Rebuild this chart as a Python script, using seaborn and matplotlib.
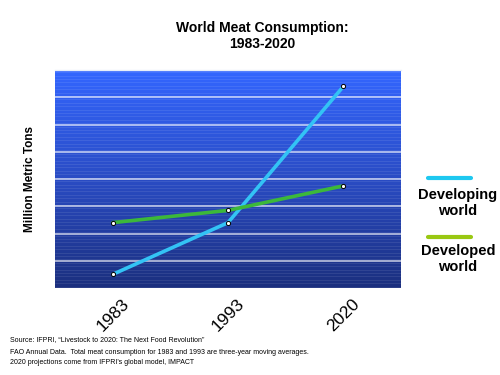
import numpy as np
import pandas as pd
import matplotlib
matplotlib.use("Agg")
import matplotlib.pyplot as plt
from matplotlib.lines import Line2D
from matplotlib.colors import LinearSegmentedColormap
import seaborn as sns

years = ["1983", "1993", "2020"]
developing = [50, 88, 188]
developed = [88, 97, 115]
series_names = ["Developing\nworld", "Developed\nworld"]

df = pd.DataFrame({
    "year": years * 2,
    "value": developing + developed,
    "series": [series_names[0]] * 3 + [series_names[1]] * 3,
})

sns.set_theme(style="white")
plt.rcParams['font.family'] = ['Liberation Sans', 'DejaVu Sans']
plt.rcParams['text.color'] = 'black'
plt.rcParams['axes.labelcolor'] = 'black'
plt.rcParams['xtick.color'] = 'black'

fig = plt.figure(figsize=(5, 3.75), dpi=100)
ax = fig.add_axes([0.11, 0.232, 0.692, 0.581])

# gradient background
cmap = LinearSegmentedColormap.from_list("bg", ["#1b2f7e", "#2a4cc4", "#3366ff"])
grad = np.linspace(0, 1, 256).reshape(-1, 1)
ax.imshow(grad, aspect="auto", cmap=cmap, origin="lower",
          extent=[-0.5, 2.5, 40, 200], zorder=0)
# faint stripes
for yv in np.arange(41, 200, 2.5):
    ax.axhline(yv, color="white", lw=0.5, alpha=0.12, zorder=1)
for yv in range(60, 200, 20):
    ax.axhline(yv, color="white", lw=1.2, alpha=0.7, zorder=1)

palette = {series_names[0]: "#33c3f5", series_names[1]: "#3cb83a"}
sns.lineplot(data=df, x="year", y="value", hue="series", palette=palette,
             lw=2.6, marker="o", markersize=3, markerfacecolor="white",
             markeredgecolor="black", markeredgewidth=0.7, legend=False,
             ax=ax, zorder=3, sort=False)

ax.set_xlim(-0.5, 2.5)
ax.set_ylim(40, 200)
ax.set_yticks([])
ax.set_xlabel("")
ax.set_ylabel("Million Metric Tons", fontsize=8.5, fontweight="bold", labelpad=14)
ax.set_xticks(range(len(years)))
ax.set_xticklabels(years, rotation=45, fontsize=12.5, ha="center")
ax.tick_params(axis="x", length=0, pad=6)
for s in ["left", "right", "bottom"]:
    ax.spines[s].set_visible(False)
ax.spines["top"].set_color("#e8eef8")
ax.spines["top"].set_linewidth(1)

fig.text(0.524, 0.905, "World Meat Consumption:\n1983-2020", ha="center", va="center",
         fontsize=10, fontweight="bold", linespacing=1.2)

# legend
fig.add_artist(Line2D([0.856, 0.942], [1 - 178 / 375] * 2, color="#1ec8f0", lw=3))
fig.text(0.916, 1 - 203 / 375, "Developing\nworld", ha="center", va="center",
         fontsize=10.5, fontweight="bold", linespacing=1.15)
fig.add_artist(Line2D([0.856, 0.942], [1 - 237 / 375] * 2, color="#99c812", lw=3))
fig.text(0.916, 1 - 259 / 375, "Developed\nworld", ha="center", va="center",
         fontsize=10.5, fontweight="bold", linespacing=1.15)

fig.text(0.02, 1 - 340 / 375, "Source: IFPRI, \u201cLivestock to 2020: The Next Food Revolution\u201d",
         fontsize=5, va="center")
fig.text(0.02, 1 - 353 / 375, "FAO Annual Data.  Total meat consumption for 1983 and 1993 are three-year moving averages.",
         fontsize=5, va="center")
fig.text(0.02, 1 - 362 / 375, "2020 projections come from IFPRI\u2019s global model, IMPACT",
         fontsize=5, va="center")

fig.savefig("out.png", dpi=100)
